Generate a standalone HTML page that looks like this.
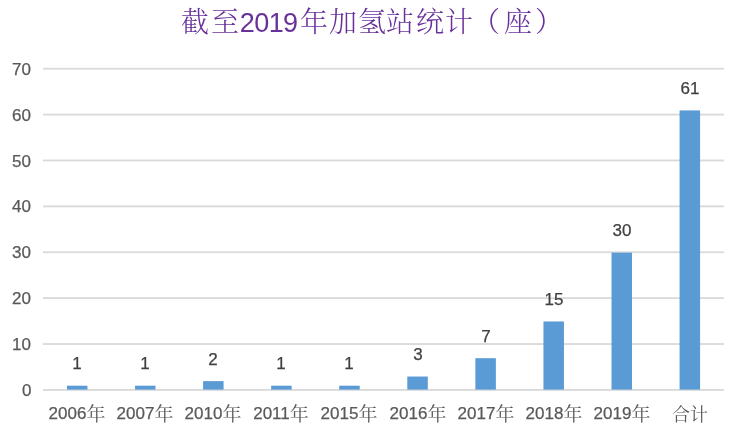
<!DOCTYPE html>
<html><head><meta charset="utf-8"><style>
html,body{margin:0;padding:0;background:#fff;}
body{width:742px;height:428px;position:relative;overflow:hidden;}
.t{position:absolute;white-space:nowrap;line-height:0;height:0;-webkit-font-smoothing:antialiased;will-change:transform;}
.n{font-family:"Liberation Sans",sans-serif;-webkit-text-stroke:0.25px currentColor;}
.c{font-family:"Liberation Sans","Noto Serif CJK SC",serif;font-weight:400;}
svg{position:absolute;left:0;top:0;}
</style></head><body>

<svg width="742" height="428" viewBox="0 0 742 428">
<rect x="43.0" y="67.80" width="681.0" height="1.80" fill="#d9d9d9"/>
<rect x="43.0" y="113.69" width="681.0" height="1.80" fill="#d9d9d9"/>
<rect x="43.0" y="159.57" width="681.0" height="1.80" fill="#d9d9d9"/>
<rect x="43.0" y="205.46" width="681.0" height="1.80" fill="#d9d9d9"/>
<rect x="43.0" y="251.34" width="681.0" height="1.80" fill="#d9d9d9"/>
<rect x="43.0" y="297.23" width="681.0" height="1.80" fill="#d9d9d9"/>
<rect x="43.0" y="343.12" width="681.0" height="1.80" fill="#d9d9d9"/>
<rect x="43.0" y="389.00" width="681.0" height="1.80" fill="#d9d9d9"/>
<rect x="66.95" y="385.71" width="20.50" height="3.89" fill="#5b9bd5"/>
<rect x="135.02" y="385.71" width="20.50" height="3.89" fill="#5b9bd5"/>
<rect x="203.09" y="381.12" width="20.50" height="8.48" fill="#5b9bd5"/>
<rect x="271.16" y="385.71" width="20.50" height="3.89" fill="#5b9bd5"/>
<rect x="339.23" y="385.71" width="20.50" height="3.89" fill="#5b9bd5"/>
<rect x="407.30" y="376.53" width="20.50" height="13.07" fill="#5b9bd5"/>
<rect x="475.37" y="358.18" width="20.50" height="31.42" fill="#5b9bd5"/>
<rect x="543.44" y="321.47" width="20.50" height="68.13" fill="#5b9bd5"/>
<rect x="611.51" y="252.64" width="20.50" height="136.96" fill="#5b9bd5"/>
<rect x="679.58" y="110.40" width="20.50" height="279.20" fill="#5b9bd5"/>
</svg>
<div class="t c" style="left:165.30px;width:60px;text-align:center;top:23.0px;color:#68309a;font-size:28.0px;font-weight:300">截</div>
<div class="t c" style="left:195.20px;width:60px;text-align:center;top:23.0px;color:#68309a;font-size:28.0px;font-weight:300">至</div>
<div class="t c" style="left:283.50px;width:60px;text-align:center;top:23.0px;color:#68309a;font-size:28.0px;font-weight:300">年</div>
<div class="t c" style="left:312.60px;width:60px;text-align:center;top:23.0px;color:#68309a;font-size:28.0px;font-weight:300">加</div>
<div class="t c" style="left:341.90px;width:60px;text-align:center;top:23.0px;color:#68309a;font-size:28.0px;font-weight:300">氢</div>
<div class="t c" style="left:370.40px;width:60px;text-align:center;top:23.0px;color:#68309a;font-size:28.0px;font-weight:300">站</div>
<div class="t c" style="left:400.00px;width:60px;text-align:center;top:23.0px;color:#68309a;font-size:28.0px;font-weight:300">统</div>
<div class="t c" style="left:429.00px;width:60px;text-align:center;top:23.0px;color:#68309a;font-size:28.0px;font-weight:300">计</div>
<div class="t c" style="left:456.00px;width:60px;text-align:center;top:23.0px;color:#68309a;font-size:28.0px;font-weight:300">（</div>
<div class="t c" style="left:488.00px;width:60px;text-align:center;top:23.0px;color:#68309a;font-size:28.0px;font-weight:300">座</div>
<div class="t c" style="left:518.90px;width:60px;text-align:center;top:23.0px;color:#68309a;font-size:28.0px;font-weight:300">）</div>
<div class="t n" style="left:219.40px;width:100px;text-align:center;top:23.0px;color:#68309a;font-size:27.0px;letter-spacing:-0.60px;text-indent:-0.60px;-webkit-text-stroke:0">2019</div>
<div class="t n" style="right:710.7px;top:69.7px;font-size:17px;color:#595959;text-align:right;">70</div>
<div class="t n" style="right:710.7px;top:115.6px;font-size:17px;color:#595959;text-align:right;">60</div>
<div class="t n" style="right:710.7px;top:161.5px;font-size:17px;color:#595959;text-align:right;">50</div>
<div class="t n" style="right:710.7px;top:207.4px;font-size:17px;color:#595959;text-align:right;">40</div>
<div class="t n" style="right:710.7px;top:253.2px;font-size:17px;color:#595959;text-align:right;">30</div>
<div class="t n" style="right:710.7px;top:299.1px;font-size:17px;color:#595959;text-align:right;">20</div>
<div class="t n" style="right:710.7px;top:345.0px;font-size:17px;color:#595959;text-align:right;">10</div>
<div class="t n" style="right:710.7px;top:390.9px;font-size:17px;color:#595959;text-align:right;">0</div>
<div class="t n" style="left:27.20px;width:100px;text-align:center;top:364.21px;font-size:17px;color:#404040">1</div>
<div class="t" style="left:27.20px;width:100px;text-align:center;top:413.40px;color:#595959"><span class="n" style="font-size:17px">2006</span><span class="c" style="font-size:19px;position:relative;top:1.5px">年</span></div>
<div class="t n" style="left:95.27px;width:100px;text-align:center;top:364.21px;font-size:17px;color:#404040">1</div>
<div class="t" style="left:95.27px;width:100px;text-align:center;top:413.40px;color:#595959"><span class="n" style="font-size:17px">2007</span><span class="c" style="font-size:19px;position:relative;top:1.5px">年</span></div>
<div class="t n" style="left:163.34px;width:100px;text-align:center;top:359.62px;font-size:17px;color:#404040">2</div>
<div class="t" style="left:163.34px;width:100px;text-align:center;top:413.40px;color:#595959"><span class="n" style="font-size:17px">2010</span><span class="c" style="font-size:19px;position:relative;top:1.5px">年</span></div>
<div class="t n" style="left:231.41px;width:100px;text-align:center;top:364.21px;font-size:17px;color:#404040">1</div>
<div class="t" style="left:231.41px;width:100px;text-align:center;top:413.40px;color:#595959"><span class="n" style="font-size:17px">2011</span><span class="c" style="font-size:19px;position:relative;top:1.5px">年</span></div>
<div class="t n" style="left:299.48px;width:100px;text-align:center;top:364.21px;font-size:17px;color:#404040">1</div>
<div class="t" style="left:299.48px;width:100px;text-align:center;top:413.40px;color:#595959"><span class="n" style="font-size:17px">2015</span><span class="c" style="font-size:19px;position:relative;top:1.5px">年</span></div>
<div class="t n" style="left:367.55px;width:100px;text-align:center;top:355.03px;font-size:17px;color:#404040">3</div>
<div class="t" style="left:367.55px;width:100px;text-align:center;top:413.40px;color:#595959"><span class="n" style="font-size:17px">2016</span><span class="c" style="font-size:19px;position:relative;top:1.5px">年</span></div>
<div class="t n" style="left:435.62px;width:100px;text-align:center;top:336.68px;font-size:17px;color:#404040">7</div>
<div class="t" style="left:435.62px;width:100px;text-align:center;top:413.40px;color:#595959"><span class="n" style="font-size:17px">2017</span><span class="c" style="font-size:19px;position:relative;top:1.5px">年</span></div>
<div class="t n" style="left:503.69px;width:100px;text-align:center;top:299.97px;font-size:17px;color:#404040">15</div>
<div class="t" style="left:503.69px;width:100px;text-align:center;top:413.40px;color:#595959"><span class="n" style="font-size:17px">2018</span><span class="c" style="font-size:19px;position:relative;top:1.5px">年</span></div>
<div class="t n" style="left:571.76px;width:100px;text-align:center;top:231.14px;font-size:17px;color:#404040">30</div>
<div class="t" style="left:571.76px;width:100px;text-align:center;top:413.40px;color:#595959"><span class="n" style="font-size:17px">2019</span><span class="c" style="font-size:19px;position:relative;top:1.5px">年</span></div>
<div class="t n" style="left:639.83px;width:100px;text-align:center;top:88.90px;font-size:17px;color:#404040">61</div>
<div class="t c" style="left:640.23px;width:100px;text-align:center;top:414.90px;color:#595959;font-size:18px">合计</div>
</body></html>
